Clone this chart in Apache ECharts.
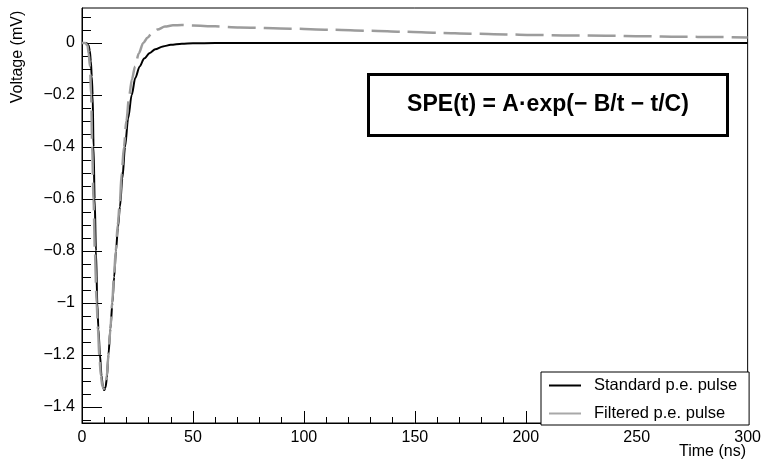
<!DOCTYPE html>
<html>
<head>
<meta charset="utf-8">
<script src="https://cdn.jsdelivr.net/npm/echarts@6/dist/echarts.min.js"></script>
<style>
html,body{margin:0;padding:0;background:#fff;}
#chart{width:764px;height:460px;}
</style>
</head>
<body>
<div id="chart"></div>
<script>
// ---- data ----
var seriesNames = ['Standard p.e. pulse', 'Filtered p.e. pulse'];

// Standard p.e. pulse: [time (ns), voltage (mV)]
var standardPulse = [
  [0, 0], [2, 0], [3, -0.01], [3.5, -0.03], [4, -0.07], [4.4, -0.13], [4.8, -0.2],
  [5.2, -0.4], [5.7, -0.6], [6.3, -0.8], [6.9, -1.0], [7.4, -1.1], [8.1, -1.2],
  [8.8, -1.28], [9.4, -1.32], [10, -1.335], [10.6, -1.325], [11.2, -1.29],
  [11.9, -1.2], [12.8, -1.1], [13.7, -1.0], [14.5, -0.9], [15.3, -0.8],
  [16.2, -0.71], [17.1, -0.63], [18.2, -0.52], [19.4, -0.4], [20.8, -0.29],
  [22.4, -0.2], [24, -0.135], [26, -0.09], [28, -0.06], [30.6, -0.038],
  [33, -0.024], [36.5, -0.013], [40, -0.007], [45, -0.003], [50, -0.001],
  [60, 0], [100, 0], [150, 0], [200, 0], [250, 0], [300, 0]
];

// Filtered p.e. pulse: [time (ns), voltage (mV)]
var filteredPulse = [
  [0, 0], [1.5, 0], [2.5, -0.01], [3.0, -0.04], [3.6, -0.09], [4.1, -0.2],
  [4.6, -0.4], [5.2, -0.6], [5.8, -0.8], [6.6, -1.0], [7.2, -1.1], [7.8, -1.2],
  [8.5, -1.28], [9.2, -1.32], [9.9, -1.33], [10.5, -1.32], [11.2, -1.28],
  [11.9, -1.2], [12.8, -1.1], [13.6, -1.0], [14.4, -0.9], [15.2, -0.8],
  [16.1, -0.7], [17.0, -0.62], [17.9, -0.5], [18.9, -0.4], [20.0, -0.3],
  [21.3, -0.2], [22.5, -0.14], [23.9, -0.09], [25.6, -0.04], [27.6, 0],
  [29.5, 0.02], [31.4, 0.037], [34, 0.052], [37.4, 0.063], [41, 0.068],
  [45, 0.069], [50, 0.067], [60, 0.064], [71, 0.06], [94, 0.055], [112, 0.051],
  [130, 0.047], [145, 0.043], [161, 0.039], [175, 0.036], [191, 0.033],
  [203, 0.031], [220, 0.029], [236, 0.028], [253, 0.026], [269, 0.024],
  [286, 0.023], [300, 0.021]
];

// axis ticks
var xMin = 0, xMax = 300, xStep = 50;
var yMin = -1.4615, yMax = 0.1346;
var yMajorTicks = [-1.4, -1.2, -1.0, -0.8, -0.6, -0.4, -0.2, 0];
var yMinorTicks = [-1.45, -1.35, -1.3, -1.25, -1.15, -1.1, -1.05, -0.95, -0.9, -0.85,
  -0.75, -0.7, -0.65, -0.55, -0.5, -0.45, -0.35, -0.3, -0.25, -0.15, -0.1, -0.05, 0.05, 0.1];

var xTitle = 'Time (ns)';
var yTitle = 'Voltage (mV)';
var formulaText = 'SPE(t) = A\u00B7exp(\u2212 B/t \u2212 t/C)';

// ---- chart ----
var FONT = '"Liberation Sans", Arial, Helvetica, sans-serif';
var chart = echarts.init(document.getElementById('chart'), null, {renderer: 'canvas'});

function fmtY(v) {
  var r = Math.round(v * 10) / 10;
  if (Math.abs(r) < 1e-9) return '0';
  return String(r).replace('-', '\u2212');
}

var option = {
  animation: false,
  backgroundColor: '#fff',
  grid: {
    left: 82, right: 15, top: 8, bottom: 37,
    show: true, borderColor: '#000', borderWidth: 1, backgroundColor: 'transparent'
  },
  xAxis: {
    type: 'value', min: xMin, max: xMax, interval: xStep,
    axisLine: {show: true, onZero: false, lineStyle: {color: '#000', width: 1}},
    axisTick: {show: true, inside: true, length: 12, lineStyle: {color: '#000', width: 1}},
    minorTick: {show: true, splitNumber: 5, length: 6, lineStyle: {color: '#000', width: 1}},
    axisLabel: {color: '#000', fontSize: 16, fontFamily: FONT, margin: 7, showMinLabel: true, showMaxLabel: true},
    splitLine: {show: false}
  },
  yAxis: [
    {
      type: 'value', min: yMin, max: yMax, position: 'left',
      axisLine: {show: true, onZero: false, lineStyle: {color: '#000', width: 1}},
      axisTick: {show: true, inside: true, length: 20, customValues: yMajorTicks, lineStyle: {color: '#000', width: 1}},
      axisLabel: {color: '#000', fontSize: 16, fontFamily: FONT, margin: 7, customValues: yMajorTicks, formatter: fmtY},
      splitLine: {show: false}
    },
    {
      type: 'value', min: yMin, max: yMax, position: 'left', offset: 0,
      axisLine: {show: false},
      axisTick: {show: true, inside: true, length: 9, customValues: yMinorTicks, lineStyle: {color: '#000', width: 1}},
      axisLabel: {show: false},
      splitLine: {show: false}
    }
  ],
  legend: {
    orient: 'vertical',
    left: 541, top: 372,
    padding: [5, 12, 3, 8],
    itemGap: 11,
    itemWidth: 32, itemHeight: 2,
    backgroundColor: '#fff',
    borderColor: '#000', borderWidth: 1,
    selectedMode: false,
    textStyle: {color: '#000', fontSize: 16.5, fontFamily: FONT, lineHeight: 16, padding: [0, 0, 0, 8]},
    data: [
      {name: seriesNames[0], icon: 'rect', itemStyle: {color: '#000'}},
      {name: seriesNames[1], icon: 'rect', itemStyle: {color: '#a8a8a8'}}
    ]
  },
  series: [
    {
      name: seriesNames[0], type: 'line', data: standardPulse,
      showSymbol: false, smooth: 0.3, smoothMonotone: 'x',
      lineStyle: {color: '#000', width: 2},
      itemStyle: {color: '#000'},
      z: 2
    },
    {
      name: seriesNames[1], type: 'line', data: filteredPulse,
      showSymbol: false, smooth: 0.3, smoothMonotone: 'x',
      lineStyle: {color: '#9c9c9c', width: 2.5, type: [28, 8]},
      itemStyle: {color: '#9c9c9c'},
      z: 3
    }
  ],
  graphic: [
    {
      type: 'text', left: 748 - 69, top: 444,
      style: {text: xTitle, fill: '#000', font: '16px ' + FONT, textAlign: 'left'}
    },
    {
      type: 'text', x: 18, y: 57, rotation: Math.PI / 2,
      style: {text: yTitle, fill: '#000', font: '16px ' + FONT, textAlign: 'center', textVerticalAlign: 'middle'}
    },
    {
      type: 'rect', shape: {x: 368.5, y: 74.5, width: 359, height: 61},
      style: {fill: '#fff', stroke: '#000', lineWidth: 3}, z: 10
    },
    {
      type: 'text', x: 548, y: 105, z: 11,
      style: {text: formulaText, fill: '#000', font: 'bold 23px ' + FONT, textAlign: 'center', textVerticalAlign: 'middle'}
    }
  ]
};
chart.setOption(option);
</script>
</body>
</html>
